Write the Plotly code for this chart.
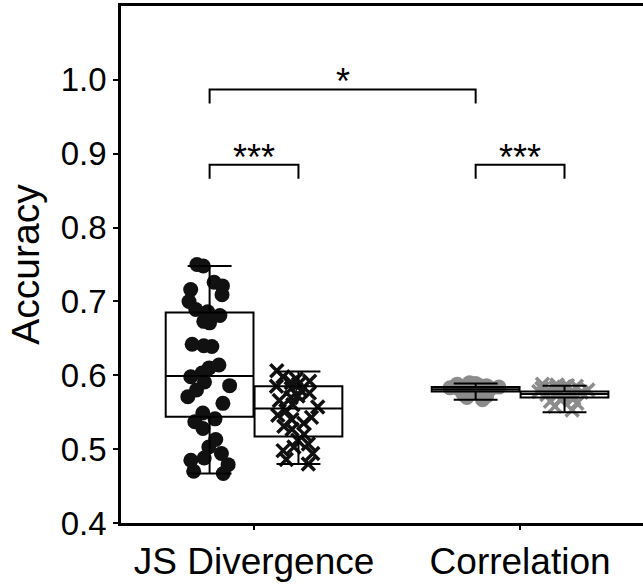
import plotly.graph_objects as go

# ---------------- data ----------------
categories = ["JS Divergence", "Correlation"]

js_circles = [0.750, 0.748, 0.726, 0.721, 0.716, 0.709, 0.700, 0.689, 0.686, 0.681,
              0.673, 0.671, 0.642, 0.640, 0.639, 0.614, 0.610, 0.603, 0.598, 0.591,
              0.586, 0.580, 0.571, 0.562, 0.549, 0.541, 0.537, 0.528, 0.513, 0.503,
              0.494, 0.488, 0.485, 0.479, 0.470, 0.467]
js_crosses = [0.606, 0.598, 0.595, 0.592, 0.590, 0.588, 0.585, 0.582, 0.579, 0.576,
              0.572, 0.570, 0.566, 0.560, 0.557, 0.552, 0.546, 0.543, 0.540, 0.535,
              0.531, 0.527, 0.520, 0.512, 0.507, 0.503, 0.498, 0.494, 0.486, 0.480]
corr_circles = [0.590, 0.589, 0.588, 0.588, 0.587, 0.586, 0.586, 0.585, 0.585, 0.584,
                0.584, 0.583, 0.583, 0.582, 0.582, 0.581, 0.581, 0.580, 0.579, 0.578,
                0.577, 0.576, 0.574, 0.572, 0.570, 0.567]
corr_crosses = [0.588, 0.587, 0.586, 0.585, 0.584, 0.583, 0.582, 0.581, 0.580, 0.579,
                0.578, 0.577, 0.576, 0.575, 0.574, 0.573, 0.572, 0.571, 0.569, 0.567,
                0.565, 0.562, 0.558, 0.553]

# box statistics (q1, median, q3, lower whisker, upper whisker)
stats_js_circles = [0.544, 0.599, 0.685, 0.467, 0.748]
stats_js_crosses = [0.517, 0.555, 0.585, 0.480, 0.605]
stats_corr_circles = [0.578, 0.581, 0.584, 0.567, 0.589]
stats_corr_crosses = [0.570, 0.5745, 0.578, 0.550, 0.586]

# significance comparisons: (group a, subgroup a, group b, subgroup b, level, label)
comparisons = [(0, 0, 1, 0, 0.987, "*"),
               (0, 0, 0, 1, 0.885, "***"),
               (1, 0, 1, 1, 0.885, "***")]

y_ticks = [0.4, 0.5, 0.6, 0.7, 0.8, 0.9, 1.0]

# ---------------- figure ----------------
OFF = 0.167
BOXW = 0.33
BLACK = "#111111"
GRAY = "#8c8c8c"

def pos(g, s):
    return g + (-OFF if s == 0 else OFF)

series = [
    (0, 0, js_circles, stats_js_circles, "circle", BLACK),
    (0, 1, js_crosses, stats_js_crosses, "x-thin", BLACK),
    (1, 0, corr_circles, stats_corr_circles, "circle", GRAY),
    (1, 1, corr_crosses, stats_corr_crosses, "x-thin", GRAY),
]

fig = go.Figure()

for g, s, vals, st, sym, col in series:
    x = pos(g, s)
    if sym == "circle":
        marker = dict(symbol="circle", size=15, color=col, line=dict(width=0))
    else:
        marker = dict(symbol="x-thin", size=13, color=col, line=dict(width=3.5, color=col))
    fig.add_trace(go.Box(
        x=[x] * len(vals), y=vals, boxpoints="all", jitter=0.6, pointpos=0,
        width=BOXW, fillcolor="rgba(0,0,0,0)",
        line=dict(width=0, color="rgba(0,0,0,0)"),
        marker=marker, showlegend=False, hoverinfo="y"))

for g, s, vals, st, sym, col in series:
    x = pos(g, s)
    fig.add_trace(go.Box(
        x=[x], q1=[st[0]], median=[st[1]], q3=[st[2]],
        lowerfence=[st[3]], upperfence=[st[4]],
        width=BOXW, whiskerwidth=0.5, boxpoints=False,
        fillcolor="rgba(0,0,0,0)", line=dict(color="black", width=2),
        showlegend=False))

LEG = 0.019
for ga, sa, gb, sb, lvl, lab in comparisons:
    xa, xb = pos(ga, sa), pos(gb, sb)
    fig.add_trace(go.Scatter(
        x=[xa, xa, xb, xb], y=[lvl - LEG, lvl, lvl, lvl - LEG], mode="lines",
        line=dict(color="black", width=2), showlegend=False, hoverinfo="skip"))
    fig.add_annotation(x=(xa + xb) / 2, y=lvl, text=lab, showarrow=False,
                       yanchor="bottom", yshift=-15,
                       font=dict(size=36, color="black", family="Liberation Sans"))

fig.update_layout(
    width=643, height=584,
    margin=dict(l=121, r=0, t=6, b=61),
    paper_bgcolor="white", plot_bgcolor="white",
    boxmode="overlay",
    font=dict(family="Liberation Sans, Arial, sans-serif", color="black"),
    xaxis=dict(range=[-0.5, 1.462], tickvals=[0, 1], ticktext=categories,
               showline=True, linecolor="black", linewidth=3, mirror=True,
               ticks="outside", ticklen=4, tickwidth=2, tickcolor="black",
               showgrid=False, zeroline=False, tickfont=dict(size=37)),
    yaxis=dict(range=[0.4, 1.1], tickvals=y_ticks,
               ticktext=[f"{v:.1f}" for v in y_ticks],
               showline=True, linecolor="black", linewidth=2.5,
               ticks="outside", ticklen=5, tickwidth=2, tickcolor="black",
               showgrid=False, zeroline=False, tickfont=dict(size=33),
               title=dict(text="Accuracy", font=dict(size=39), standoff=10)),
)

fig.write_html("out.html")
